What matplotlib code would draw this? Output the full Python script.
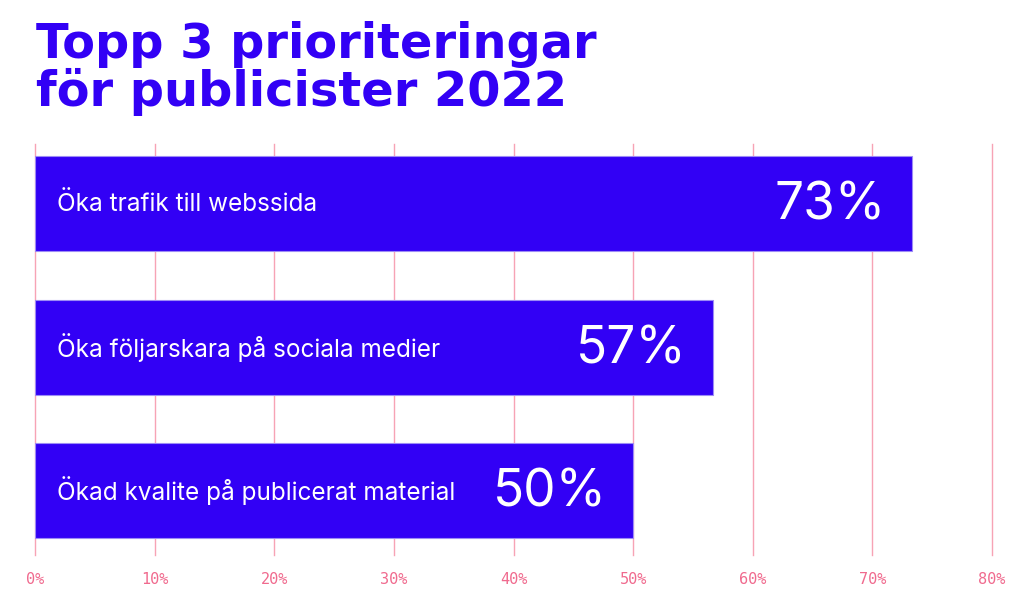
import matplotlib
matplotlib.use('Agg')
import matplotlib.pyplot as plt

# Data
categories = ['Öka trafik till webssida', 'Öka följarskara på sociala medier', 'Ökad kvalite på publicerat material']
values = [73.3, 56.7, 50.0]
value_labels = ['73%', '57%', '50%']
tick_values = [0, 10, 20, 30, 40, 50, 60, 70, 80]
tick_labels = ['0%', '10%', '20%', '30%', '40%', '50%', '60%', '70%', '80%']

blue = '#3200f5'
pink = '#f06a8e'

fig = plt.figure(figsize=(10.24, 5.99), dpi=100)
ax = fig.add_axes([0.0342, 0.0735, 0.9346, 0.6861])

y = list(range(len(categories)))
ax.barh(y, values, height=0.662, color=blue, edgecolor='#9d8cf5', linewidth=0.8, zorder=2)

for yi, cat, v, lab in zip(y, categories, values, value_labels):
    ax.text(1.8, yi, cat, color='white', fontsize=17.5, va='center', ha='left',
            family='Inter', zorder=3)
    ax.text(v - 2.2, yi + 0.02, lab, color='white', fontsize=37, va='center', ha='right',
            family='Inter', fontweight='normal', zorder=3)

ax.set_xlim(0, 80)
ax.set_ylim(2.449, -0.415)
ax.set_xticks(tick_values)
ax.set_xticklabels(tick_labels, family='DejaVu Sans Mono', fontsize=11, color=pink)
ax.tick_params(axis='x', length=0, pad=12)
ax.set_yticks([])
ax.grid(axis='x', color='#f7a3b5', linewidth=1, zorder=0)
for gl in ax.get_xgridlines():
    gl.set_clip_on(False)
for s in ax.spines.values():
    s.set_visible(False)

fig.text(0.035, 0.965, 'Topp 3 prioriteringar\nför publicister 2022', color=blue,
         fontsize=34.5, fontweight='heavy', family='DejaVu Sans', va='top', ha='left',
         linespacing=1.0)

fig.savefig('out.png', dpi=100)
